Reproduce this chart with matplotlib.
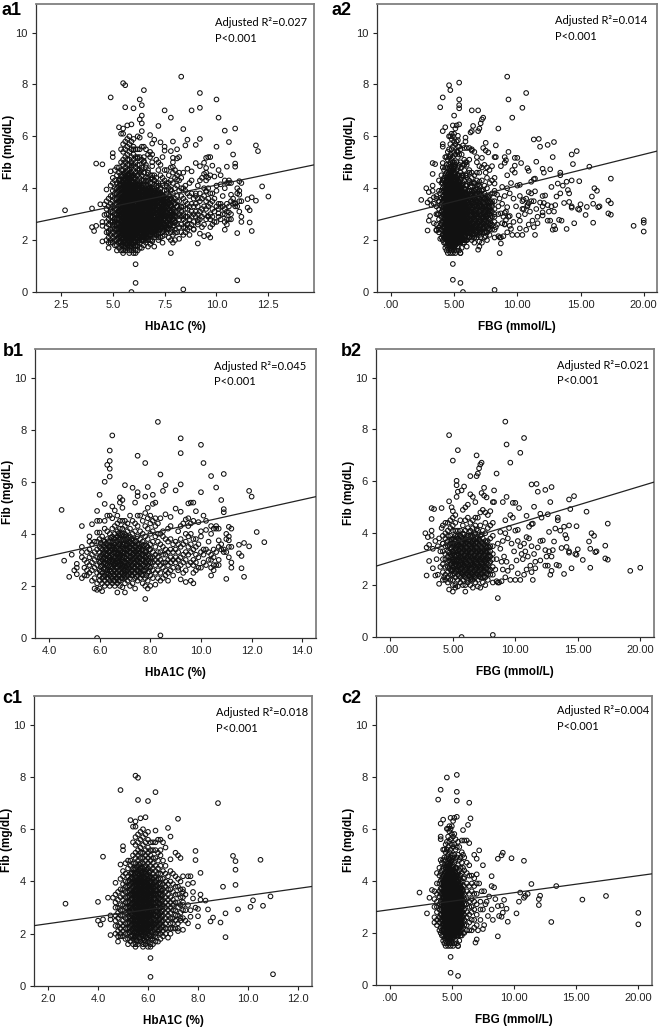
import numpy as np
import matplotlib
matplotlib.use('Agg')
import matplotlib.pyplot as plt

W, H = 659, 1030
plt.rcParams['font.family'] = ['Liberation Sans Narrow', 'Liberation Sans', 'DejaVu Sans']

# ---- b1: HbA1C, diabetic group ----
b1_sparse = [(4.5,4.92),(4.6,2.97),(4.8,2.35),(4.9,3.2),(5.0,2.6),(5.1,2.45),(5.1,2.7),(5.1,2.85),(5.3,4.3),(5.3,3.5),
 (5.3,3.3),(5.3,3.1),(5.3,2.3),(5.6,3.9),(5.7,4.37),(8.3,8.3),(6.5,7.78),(9.2,7.67),(10.0,7.42),(6.4,7.2),(9.2,7.1),
 (7.5,7.0),(7.8,6.72),(10.1,6.72),(6.4,6.8),(6.3,6.65),(6.4,6.5),(6.4,6.2),(6.2,6.0),(8.4,6.28),(10.4,6.22),(10.9,6.3),
 (7.0,5.87),(7.3,5.77),(7.9,5.8),(8.6,5.87),(8.5,5.65),(9.0,5.67),(9.2,5.9),(10.6,5.78),(10.0,5.6),(7.5,5.6),(7.5,5.45),
 (7.8,5.43),(8.1,5.5),(6.0,5.5),(6.2,5.15),(6.8,5.4),(6.9,5.3),(10.8,5.3),(11.9,5.65),(12.0,5.43),(9.5,5.17),(9.6,5.2),
 (9.7,5.2),(10.9,4.95),(10.9,4.83),(12.2,4.07),(12.5,3.68),(11.5,3.58),(11.7,3.65),(11.9,3.52),(11.5,3.25),(11.6,3.15),
 (11.6,2.68),(11.7,2.35),(11.0,2.27),(10.4,2.4),(7.8,1.5),(8.4,0.1),(5.9,0.0),(9.7,2.1),(9.4,2.15),(9.6,2.2),(9.2,2.25),(9.1,2.6)]
b1_levels = [5.4,5.5,5.6,5.7,5.8,5.9,6.0,6.1,6.2,6.3,6.4,6.5,6.6,6.7,6.8,6.9,7.0,7.1,7.2,7.3,7.4,7.5,7.6,7.7,7.8,7.9,8.0,8.1,8.2,8.3,8.4,8.5,8.6,8.7,8.8,8.9,9.0,9.1,9.2,9.3,9.4,9.5,9.6,9.7,9.8,9.9,10.0,10.1,10.2,10.3,10.4,10.5,10.6,10.7,10.8,10.9,11.0,11.1,11.2]
b1_rows = [
 [2.4,2.7,3.0],[2.4,2.6,2.9,3.3],[2.5,2.8,3.1,3.4,3.7],[2.2,2.6,2.9,3.2,3.6],[1.9,2.3,2.7,3.0,3.3,3.7],
 [1.85,2.1,2.5,2.8,3.1,3.4,3.7,4.05,4.5,4.88],[1.9,2.2,2.4,2.6,2.9,3.1,3.3,3.5,3.8,4.05,4.5],[1.8,2.1,2.3,2.5,2.8,3.0,3.2,3.4,3.6,3.9],
 [2.0,2.2,2.4,2.7,2.9,3.1,3.3,3.5,3.7,4.2,4.5],[2.1,2.3,2.5,2.6,2.8,3.0,3.2,3.4,3.6,3.8,4.1,4.7],[2.0,2.2,2.4,2.6,2.8,3.0,3.1,3.3,3.5,3.7,4.0,4.7],
 [2.1,2.3,2.5,2.7,2.9,3.0,3.2,3.4,3.5,3.7,3.9,4.2,4.6,5.05],[2.0,2.2,2.4,2.6,2.8,2.9,3.1,3.3,3.4,3.6,3.8,4.0,4.3,4.9],
 [1.75,2.1,2.3,2.5,2.7,2.9,3.0,3.2,3.3,3.5,3.7,3.9,4.1,4.4,4.7],[2.0,2.2,2.4,2.6,2.8,2.9,3.1,3.2,3.4,3.6,3.8,4.0,4.2,4.5,5.2],
 [1.95,2.3,2.5,2.7,2.8,3.0,3.1,3.3,3.5,3.6,3.8,4.0,4.2,4.5,5.0],[1.75,2.1,2.3,2.5,2.6,2.8,2.9,3.1,3.3,3.4,3.6,3.8,4.0,4.3,4.5],
 [2.2,2.4,2.6,2.8,3.0,3.2,3.4,3.6,3.8,4.1,4.4],[2.0,2.3,2.5,2.7,2.9,3.1,3.3,3.5,3.7,3.9,4.2,4.7],[2.1,2.4,2.6,2.8,3.0,3.2,3.4,3.6,3.8,4.0,4.5],
 [1.9,2.3,2.5,2.7,2.9,3.1,3.3,3.5,3.7,4.1,4.4,5.2],[2.2,2.4,2.6,2.8,3.0,3.2,3.4,3.6,3.9,4.3,4.7],[2.3,2.5,2.7,2.9,3.1,3.3,3.5,3.8,4.1,4.7],
 [2.1,2.4,2.6,2.8,3.0,3.2,3.4,3.7,4.0,4.5],[2.0,2.3,2.6,2.9,3.1,3.3,3.6,3.9,4.3,4.8],[1.9,2.2,2.5,2.8,3.0,3.2,3.5,3.8,4.2,4.6,5.0],
 [2.0,2.4,2.7,2.9,3.1,3.4,3.6,4.0,4.4,4.7],[2.3,2.6,2.9,3.1,3.3,3.7,4.1,4.5,5.15],[2.05,2.5,2.8,3.0,3.2,3.5,3.9,4.3,4.6,5.2],
 [2.3,2.6,2.9,3.1,3.3,3.7,4.0,4.4],[2.2,2.5,2.8,3.0,3.3,3.6,4.0,4.6],[2.3,2.7,2.9,3.2,3.5,3.9,4.1],
 [2.4,2.6,2.9,3.2,3.4,3.8,4.75],[2.2,2.5,2.8,3.0,3.3,3.7,4.2],[2.6,2.9,3.1,3.4,3.8,4.3,4.65],[2.4,2.7,3.0,3.3,3.6],
 [2.9,3.1,3.4,3.7,4.97],[2.7,3.0,3.3,3.6,4.1],[2.8,3.1,3.5,3.8,4.3,4.85],[2.5,2.9,3.2,3.6,4.4],
 [2.6,3.0,3.3,3.7,4.0,4.55],[2.8,3.2,3.5,3.9,4.3,4.6],[2.9,3.3,3.6,4.0,4.4],[2.5,2.8,3.0,3.4,3.8,4.5],
 [2.6,2.9,3.2,3.5,3.8,4.87],[2.7,3.1,3.6,4.45],[2.7,3.3,3.9,4.1],[2.9,3.2,3.4,4.7],[2.8,3.4,4.15,4.5],
 [3.0,3.3,3.7],[2.7,3.0,3.2,4.3,4.0],[2.6,2.8,3.1,3.4,4.2],[2.8,3.3,4.3,4.2],[2.8,3.0,3.75,3.5,4.2],
 [3.4,3.6],[3.3,3.4],[3.3,3.8,4.0],[3.1,3.5,3.75,3.9,4.27],[2.7,2.9,3.5,4.2]]
# the packed middle of the b1 cloud
b1_core_levels = [6.05,6.15,6.25,6.35,6.45,6.55,6.65,6.75,6.85,6.95,7.05,7.15,7.25,7.35,7.45,7.55,7.65,7.75,7.85,7.95]
b1_core_rows = [
 [2.55,2.75,2.95,3.15,3.45,3.65],[2.35,2.65,2.85,3.05,3.25,3.55,3.75],[2.45,2.65,2.85,3.02,3.22,3.42,3.62],
 [2.27,2.47,2.72,2.92,3.12,3.32,3.52,3.72],[2.35,2.55,2.75,2.95,3.15,3.35,3.55,3.85],[2.2,2.42,2.62,2.82,2.98,3.12,3.28,3.48,3.62,3.82],
 [2.3,2.5,2.7,2.85,3.05,3.25,3.45,3.65,3.85],[2.2,2.4,2.6,2.8,2.96,3.1,3.26,3.42,3.6,3.8,4.02],[2.3,2.5,2.68,2.85,3.02,3.18,3.35,3.52,3.72,3.95],
 [2.4,2.6,2.75,2.92,3.08,3.25,3.42,3.58,3.75,3.92],[2.35,2.55,2.72,2.88,3.05,3.22,3.38,3.55,3.72,3.9],[2.45,2.65,2.82,2.98,3.15,3.32,3.48,3.65,3.85],
 [2.4,2.6,2.78,2.95,3.12,3.28,3.45,3.62,3.8],[2.5,2.7,2.88,3.05,3.22,3.38,3.55,3.75],[2.35,2.6,2.8,2.98,3.15,3.32,3.5,3.7],
 [2.55,2.75,2.92,3.08,3.25,3.42,3.62],[2.45,2.68,2.85,3.02,3.2,3.38,3.6],[2.6,2.8,2.98,3.15,3.35,3.55],
 [2.4,2.7,2.92,3.12,3.32,3.55],[2.55,2.75,2.95,3.15,3.4]]

# ---- c1: HbA1C, non-diabetic group ----
c1_sparse = [(2.7,3.15),(4.0,3.22),(4.0,2.5),(4.1,2.35),(4.2,2.55),(4.2,4.95),(4.4,3.38),(4.6,3.38),(4.5,2.55),(4.5,2.7),
 (4.5,1.95),(4.7,3.95),(4.8,1.7),(4.9,4.65),(4.9,7.5),(5.0,5.35),(5.0,5.2),(5.5,8.05),(5.6,7.97),(5.6,7.12),(6.0,7.08),
 (6.3,7.42),(5.3,6.35),(5.5,6.3),(5.7,6.42),(5.9,6.46),(6.3,5.95),(6.8,6.05),(6.9,5.72),(7.2,6.4),(8.8,7.0),(7.9,5.17),
 (7.9,4.82),(8.1,4.33),(9.4,4.98),(9.5,4.78),(9.5,4.45),(9.5,3.87),(9.0,3.8),(10.5,4.83),(10.9,3.43),(10.2,3.28),(10.6,3.07),
 (10.1,3.03),(9.6,2.93),(9.1,2.78),(8.9,2.43),(8.6,2.62),(8.5,2.47),(9.1,1.87),(11.0,0.45),(6.1,1.07),(6.1,0.35),(8.4,2.93),
 (8.3,3.27),(8.1,3.5),(8.1,3.3),(8.0,2.95),(8.0,2.67),(8.0,2.28),(7.7,2.65),(7.6,2.4),(7.4,2.15),(7.2,2.1),(7.8,3.6),(7.6,3.9),
 (7.7,4.2),(7.6,4.2),(7.8,3.95),(7.2,5.0),(7.3,4.9),(7.1,5.1),(7.5,3.5),(7.6,3.1),(7.7,2.9),(7.8,3.35),(7.9,3.0),(7.4,3.7),(7.5,2.9),(7.4,3.2),(7.3,2.6),(7.5,2.5)]
c1_levels = [4.7,4.8,4.9,5.0,5.1,5.2,5.3,5.4,5.5,5.6,5.7,5.8,5.9,6.0,6.1,6.2,6.3,6.4,6.5,6.6,6.7,6.8,6.9,7.0,7.1,7.2,7.3,7.4]
c1_rows = [
 [2.0,2.3,2.5,2.7,3.0,3.2,3.5],[1.9,2.1,2.3,2.6,2.8,3.0,3.3,3.6],[1.9,2.0,2.2,2.4,2.7,2.9,3.1,3.4,3.7,4.1],
 [1.9,2.1,2.3,2.5,2.7,2.9,3.1,3.3,3.5,3.7,3.9,4.2,4.4],[1.8,2.0,2.2,2.4,2.6,2.8,3.0,3.2,3.4,3.6,3.8,4.0,4.3,4.7],
 [1.6,1.8,2.0,2.2,2.4,2.6,2.8,3.0,3.2,3.4,3.6,3.8,4.0,4.2,4.5,4.8],[1.7,1.9,2.1,2.3,2.5,2.6,2.8,3.0,3.1,3.3,3.5,3.7,3.9,4.1,4.3,4.6,4.8],
 [1.6,1.8,1.9,2.1,2.2,2.4,2.5,2.7,2.9,3.0,3.2,3.3,3.5,3.6,3.8,4.0,4.1,4.3,4.5,4.7,5.0,5.5,6.1],
 [1.5,1.6,1.8,1.9,2.1,2.2,2.4,2.5,2.7,2.8,3.0,3.1,3.3,3.4,3.6,3.7,3.9,4.0,4.2,4.3,4.5,4.7,4.9,5.1,5.4,5.7,6.1],
 [1.6,1.7,1.9,2.0,2.2,2.3,2.5,2.6,2.8,2.9,3.1,3.2,3.4,3.5,3.7,3.8,4.0,4.1,4.3,4.4,4.6,4.8,5.0,5.2,5.5,5.8],
 [1.7,1.8,2.0,2.1,2.3,2.4,2.6,2.7,2.9,3.0,3.2,3.3,3.5,3.6,3.8,3.9,4.1,4.2,4.4,4.5,4.7,4.9,5.1,5.3,5.6,5.9],
 [1.5,1.6,1.8,1.9,2.1,2.2,2.4,2.5,2.7,2.8,3.0,3.1,3.3,3.4,3.6,3.7,3.9,4.0,4.2,4.3,4.5,4.7,4.9,5.1,5.4,5.7,6.0],
 [1.6,1.7,1.9,2.0,2.2,2.3,2.5,2.6,2.8,2.9,3.1,3.2,3.4,3.5,3.7,3.8,4.0,4.1,4.3,4.4,4.6,4.8,5.0,5.2,5.5,5.8],
 [1.5,1.7,1.8,2.0,2.1,2.3,2.4,2.6,2.7,2.9,3.0,3.2,3.3,3.5,3.6,3.8,3.9,4.1,4.2,4.4,4.5,4.7,4.9,5.1,5.3,5.6,5.9],
 [1.5,1.6,1.8,1.9,2.1,2.2,2.4,2.5,2.7,2.8,3.0,3.1,3.3,3.4,3.6,3.7,3.9,4.0,4.2,4.4,4.6,4.8,5.0,5.2,5.5],
 [1.6,1.8,1.9,2.1,2.3,2.4,2.6,2.7,2.9,3.0,3.2,3.3,3.5,3.6,3.8,3.9,4.1,4.3,4.5,4.7,4.9,5.2,5.5],
 [1.7,1.9,2.0,2.2,2.4,2.5,2.7,2.9,3.0,3.2,3.3,3.5,3.7,3.8,4.0,4.2,4.4,4.6,4.9,5.2,5.5],
 [1.7,2.0,2.1,2.3,2.5,2.7,2.8,3.0,3.2,3.4,3.5,3.7,3.9,4.1,4.3,4.5,4.8,5.1,5.6],
 [1.8,2.0,2.2,2.4,2.6,2.8,3.0,3.1,3.3,3.5,3.7,3.9,4.1,4.3,4.6,5.0,5.2,5.6],
 [1.9,2.1,2.3,2.5,2.7,2.9,3.1,3.3,3.5,3.7,3.9,4.1,4.4,4.8,5.5],
 [2.0,2.2,2.4,2.6,2.8,3.0,3.2,3.4,3.6,3.8,4.0,4.3,4.6,5.3],[1.85,2.2,2.5,2.7,2.9,3.1,3.3,3.5,3.7,3.9,4.2],
 [2.0,2.2,2.4,2.6,2.8,3.0,3.2,3.4,3.7,4.0,4.4,4.85],[2.2,2.4,2.6,2.9,3.1,3.3,3.6,3.9,4.3],[2.2,2.5,2.7,2.9,3.2,3.5,3.8,4.2],
 [2.2,2.4,2.7,3.0,3.2,3.5,3.8,4.1],[2.5,2.8,3.1,3.4,3.7,4.0],[2.6,2.9,3.1,3.4,3.6,4.2]]
# the black middle of the c1 cloud
c1_core_levels = [5.25,5.35,5.45,5.55,5.65,5.75,5.85,5.95,6.05,6.15,6.25,6.35,6.45,6.55]
c1_core_rows = [
 [2.05,2.25,2.45,2.65,2.85,3.05,3.25,3.45,3.65,3.85,4.05],
 [1.95,2.15,2.35,2.55,2.75,2.95,3.15,3.35,3.55,3.75,3.95,4.15,4.35],
 [1.85,2.05,2.25,2.35,2.45,2.65,2.75,2.85,3.05,3.15,3.25,3.45,3.55,3.65,3.85,3.95,4.05,4.25,4.45],
 [1.75,1.95,2.05,2.15,2.25,2.35,2.45,2.55,2.65,2.75,2.85,2.95,3.05,3.15,3.25,3.35,3.45,3.55,3.65,3.75,3.85,3.95,4.05,4.15,4.35,4.55],
 [1.85,2.05,2.15,2.25,2.35,2.45,2.55,2.65,2.75,2.85,2.95,3.05,3.15,3.25,3.35,3.45,3.55,3.65,3.75,3.85,3.95,4.05,4.15,4.25,4.45,4.65],
 [1.95,2.05,2.15,2.25,2.35,2.45,2.55,2.65,2.75,2.85,2.95,3.05,3.15,3.25,3.35,3.45,3.55,3.65,3.75,3.85,3.95,4.05,4.15,4.25,4.35,4.55],
 [1.75,1.95,2.05,2.15,2.25,2.35,2.45,2.55,2.65,2.75,2.85,2.95,3.05,3.15,3.25,3.35,3.45,3.55,3.65,3.75,3.85,3.95,4.05,4.15,4.35,4.55],
 [1.85,2.05,2.15,2.25,2.35,2.45,2.55,2.65,2.75,2.85,2.95,3.05,3.15,3.25,3.35,3.45,3.55,3.65,3.75,3.85,3.95,4.05,4.25,4.45],
 [1.95,2.15,2.25,2.35,2.45,2.55,2.65,2.75,2.85,2.95,3.05,3.15,3.25,3.35,3.45,3.55,3.65,3.75,3.85,3.95,4.15,4.35],
 [2.05,2.25,2.35,2.45,2.65,2.75,2.85,3.05,3.15,3.25,3.45,3.55,3.65,3.85,3.95,4.15],
 [2.15,2.35,2.55,2.75,2.95,3.15,3.35,3.55,3.75,3.95,4.15],
 [2.25,2.45,2.65,2.85,3.05,3.25,3.45,3.65,3.85,4.05],
 [2.15,2.35,2.55,2.75,2.95,3.15,3.35,3.55,3.75,3.95],
 [2.25,2.45,2.65,2.85,3.05,3.25,3.45,3.65]]

# ---- b2: FBG, diabetic group ----
b2_sparse = [(9.2,8.3),(4.7,7.78),(10.7,7.67),(9.3,7.42),(5.4,7.2),(10.4,7.1),(6.9,7.0),(5.0,6.8),(9.6,6.72),(7.3,6.72),(7.2,6.65),
 (7.1,6.5),(8.5,6.3),(7.0,6.3),(6.9,6.2),(6.4,6.2),(5.3,6.02),(5.3,5.85),(5.9,5.8),(5.7,5.65),(5.4,5.6),(5.3,5.4),(11.3,5.88),
 (11.7,5.9),(11.8,5.6),(12.9,5.78),(12.4,5.67),(14.7,5.43),(14.3,5.3),(14.4,4.93),(15.7,4.83),(17.4,4.37),(14.9,4.27),(16.1,4.0),
 (16.3,3.9),(15.9,3.68),(17.2,3.52),(16.0,3.4),(16.4,3.27),(16.5,3.3),(15.0,3.38),(15.4,2.97),(17.2,3.03),(17.4,2.98),(16.0,2.67),
 (14.5,2.65),(13.9,2.43),(13.5,2.75),(13.3,2.78),(19.2,2.55),(20.0,2.67),(14.1,3.47),(14.3,3.25),(14.3,3.3),(14.8,3.2),(14.9,3.17),
 (13.7,3.43),(13.1,3.68),(12.7,4.05),(13.2,4.18),(13.6,4.1),(13.9,4.25),(14.3,4.3),(14.0,3.93),(14.1,3.8),(13.4,4.6),(13.4,4.5),
 (8.6,1.5),(8.2,0.08),(5.7,0.0),(3.3,4.97),(3.5,4.93),(3.3,4.55),(4.1,4.97),(2.8,4.0),(3.0,3.85),(3.3,3.9),(3.3,4.1),(3.1,3.55),
 (2.9,3.45),(3.4,3.4),(3.1,2.93),(2.9,2.37),(3.4,2.65),(3.6,2.37),(3.8,2.4),(3.9,2.05),(4.7,1.83),(5.0,1.75),(5.2,1.9),(6.0,1.75),
 (4.7,5.23),(5.0,4.85),(4.9,5.0),(3.6,3.7),(3.7,3.0),(3.8,3.5),(3.9,3.8),(4.0,3.3),(4.0,2.7),(4.1,4.2),(4.2,3.6),(4.3,2.3),
 (8.3,5.65),(8.3,5.2),(7.5,5.75),(7.5,5.45),(7.7,5.38),(7.3,5.55),(9.0,5.2),(9.3,5.4),(9.6,4.7),(9.8,5.17),(10.0,5.17),(10.3,4.97),
 (10.9,4.67),(11.5,5.02),(12.0,4.75),(12.1,4.6),(12.6,4.73),(12.8,5.2),(11.4,4.37),(11.3,4.35),(11.1,4.25),(10.2,4.13),(10.0,4.1),
 (9.2,4.5),(9.5,4.2),(9.8,4.6),(9.4,3.8),(9.7,3.6),(9.9,3.3),(10.2,3.7),(10.4,3.5),(10.5,3.2),(10.6,3.0),(10.7,3.6),(10.9,3.85),
 (11.1,3.8),(11.3,3.5),(11.5,3.2),(11.6,2.9),(11.8,3.45),(12.0,3.7),(12.2,3.72),(12.4,3.35),(12.5,3.1),(12.7,3.3),(12.9,3.1),
 (13.0,3.35),(12.4,2.75),(12.6,2.75),(12.8,2.4),(12.9,2.55),(12.0,2.95),(11.6,2.65),(11.4,2.2),(11.3,2.5),(11.2,2.75),(10.9,2.6),
 (10.7,2.4),(10.4,2.2),(10.2,2.45),(10.0,2.2),(10.1,2.95),(9.7,2.7),(9.6,2.2),(9.4,2.55),(9.2,2.3),(9.0,2.6),(8.9,2.15),(8.7,2.1),
 (8.5,2.15),(8.6,2.1),(8.9,2.9),(9.1,3.1),(9.3,2.9),(8.8,3.4),(9.0,3.7),(9.2,4.0),(8.8,4.05),(8.6,3.6),(8.5,3.0),(8.4,2.6),(10.8,3.3),(11.0,3.1)]
b2_levels = [4.2,4.4,4.6,4.8,5.0,5.2,5.4,5.6,5.8,6.0,6.2,6.4,6.6,6.8,7.0,7.2,7.4,7.6,7.8,8.0,8.2]
b2_rows = [
 [2.2,2.5,2.8,3.0,3.3,3.6,3.9,4.3],[2.2,2.4,2.7,3.0,3.2,3.5,3.8,4.0,4.4],[2.1,2.3,2.5,2.7,2.9,3.1,3.3,3.5,3.7,3.9,4.1,4.4],
 [2.2,2.4,2.6,2.8,2.9,3.1,3.2,3.4,3.6,3.7,3.9,4.2,4.5],[2.0,2.2,2.4,2.6,2.7,2.9,3.0,3.2,3.3,3.5,3.6,3.8,4.1,4.3,4.6],
 [2.0,2.3,2.5,2.7,2.8,3.0,3.1,3.3,3.4,3.6,3.7,3.9,4.1,4.4,4.7],[1.95,2.2,2.4,2.6,2.7,2.9,3.0,3.2,3.3,3.5,3.6,3.8,3.9,4.1],
 [2.1,2.3,2.5,2.6,2.8,2.9,3.1,3.2,3.4,3.5,3.7,3.9,4.1,4.5],[2.0,2.2,2.4,2.5,2.7,2.8,3.0,3.1,3.3,3.4,3.6,3.8,4.0,4.3,4.9],
 [2.0,2.3,2.4,2.6,2.7,2.9,3.0,3.2,3.3,3.5,3.6,3.8,4.1,4.5,5.0],[2.1,2.2,2.4,2.5,2.7,2.8,3.0,3.1,3.3,3.4,3.6,3.7,3.9,4.2,4.6,5.1],
 [2.0,2.2,2.3,2.5,2.6,2.8,2.9,3.1,3.2,3.4,3.5,3.7,3.9,4.1,4.4,5.5],[1.9,2.2,2.4,2.5,2.7,2.8,3.0,3.1,3.3,3.4,3.6,3.7,3.9,4.2,4.5,5.4],
 [2.1,2.3,2.4,2.6,2.7,2.9,3.0,3.2,3.3,3.5,3.6,3.8,4.0,4.3,4.6,5.2],[1.95,2.2,2.4,2.5,2.7,2.8,3.0,3.1,3.3,3.4,3.6,3.8,4.1,4.6],
 [1.9,2.3,2.4,2.6,2.7,2.9,3.0,3.2,3.3,3.5,3.7,3.9,4.3,4.8],[2.1,2.3,2.5,2.7,2.8,3.0,3.1,3.3,3.4,3.6,3.8,4.1,4.9],
 [2.0,2.3,2.5,2.7,2.9,3.0,3.2,3.3,3.5,3.7,4.0,4.4,4.8],[2.2,2.4,2.6,2.8,3.0,3.1,3.3,3.5,3.7,4.2,4.7],[2.4,2.6,2.9,3.1,3.3,3.5,3.8,4.3,4.85],
 [2.1,2.4,2.7,3.0,3.2,3.5,3.9,4.4,5.2]]
# the packed middle of the b2 cloud
b2_core_levels = [4.7,4.9,5.1,5.3,5.5,5.7,5.9,6.1,6.3,6.5,6.7,6.9,7.1,7.3,7.5,7.7,7.9]
b2_core_rows = [
 [2.65,2.95,3.25,3.55],[2.55,2.85,3.15,3.45,3.75],[2.45,2.75,2.95,3.15,3.35,3.55,3.75],[2.55,2.75,2.95,3.15,3.35,3.55,3.85],
 [2.35,2.55,2.75,2.95,3.15,3.35,3.55,3.75],[2.45,2.65,2.85,3.05,3.25,3.45,3.65,3.85],[2.35,2.55,2.75,2.95,3.15,3.35,3.55,3.75,3.95],
 [2.45,2.65,2.85,3.05,3.25,3.45,3.65,3.85],[2.35,2.55,2.75,2.95,3.15,3.35,3.55,3.75,4.05],[2.25,2.45,2.65,2.85,3.05,3.25,3.45,3.65,3.85],
 [2.35,2.55,2.75,2.95,3.15,3.35,3.55,3.75,3.95],[2.45,2.65,2.85,3.05,3.25,3.45,3.65,3.85,4.15],[2.35,2.55,2.75,2.95,3.15,3.35,3.55,3.75],
 [2.45,2.65,2.85,3.05,3.25,3.45,3.65,3.95],[2.35,2.55,2.75,2.95,3.15,3.35,3.55],[2.45,2.65,2.85,3.05,3.25,3.45,3.65],[2.55,2.85,3.15,3.45]]

# ---- c2: FBG, non-diabetic group ----
c2_sparse = [(2.4,3.55),(3.0,2.75),(3.2,3.35),(3.4,3.65),(3.6,2.4),(3.9,7.12),(4.1,7.5),(4.6,7.97),(5.4,8.07),(5.4,7.42),(5.4,7.08),
 (6.4,7.0),(4.3,6.35),(4.1,6.2),(4.1,5.7),(4.1,5.6),(4.9,6.42),(5.2,6.42),(5.4,6.46),(6.5,6.4),(6.3,6.15),(5.9,5.95),(6.0,5.55),
 (6.2,5.55),(6.4,5.45),(7.2,5.17),(6.8,5.0),(7.0,4.85),(7.5,4.6),(7.0,4.25),(8.2,4.18),(8.2,3.8),(8.4,3.75),(8.7,4.85),(9.0,4.98),
 (9.1,5.08),(9.8,4.87),(10.8,4.77),(11.4,3.88),(13.4,3.8),(10.5,3.55),(10.9,3.42),(10.8,3.35),(11.1,3.5),(10.4,3.2),(12.0,3.3),
 (12.1,3.43),(12.0,3.07),(13.0,2.42),(15.5,3.28),(17.4,3.42),(20.0,2.77),(20.0,2.33),(10.2,2.75),(9.5,2.43),(9.4,2.93),(9.2,3.27),
 (9.0,3.05),(8.7,3.03),(9.1,2.78),(8.8,2.65),(9.0,2.62),(8.7,1.87),(8.3,2.5),(7.0,1.75),(6.9,1.63),(5.5,1.5),(4.9,1.08),(4.9,0.47),
 (5.5,0.35),(8.2,2.9),(8.5,3.3),(8.0,3.4),(7.7,3.1),(7.9,2.65),(7.2,3.9),(7.4,3.6),(7.6,3.6),(7.3,3.2),(7.5,2.9),(7.3,2.5),(7.6,2.3),(7.5,2.15),(7.8,3.2),(7.1,2.1),(7.3,2.9)]
c2_levels = [3.6,3.8,4.0,4.1,4.2,4.3,4.4,4.5,4.6,4.7,4.8,4.9,5.0,5.1,5.2,5.3,5.4,5.5,5.6,5.7,5.8,5.9,6.0,6.2,6.4,6.6,6.8,7.0]
c2_rows = [
 [2.6,3.0,3.3,3.6],[2.3,2.5,2.8,3.0,3.2,3.5,3.9,4.3],[2.1,2.4,2.6,2.9,3.1,3.4,3.6,3.9,4.2,4.5],[2.0,2.2,2.5,2.7,3.0,3.2,3.5,3.7,4.0,4.3,4.8],
 [1.9,2.1,2.3,2.5,2.7,2.9,3.1,3.3,3.5,3.7,3.9,4.1,4.4,4.7],[1.7,1.9,2.1,2.3,2.5,2.6,2.8,3.0,3.2,3.4,3.6,3.8,4.0,4.2,4.5,4.8,5.2],
 [1.6,1.8,2.0,2.1,2.3,2.4,2.6,2.7,2.9,3.0,3.2,3.3,3.5,3.6,3.8,3.9,4.1,4.3,4.6,4.9,5.2],
 [1.5,1.7,1.9,2.0,2.2,2.3,2.5,2.6,2.8,2.9,3.1,3.2,3.4,3.5,3.7,3.8,4.0,4.1,4.3,4.5,4.8,5.1,5.4],
 [1.6,1.8,1.9,2.1,2.2,2.4,2.5,2.7,2.8,3.0,3.1,3.3,3.4,3.6,3.7,3.9,4.0,4.2,4.4,4.6,4.9,5.2,5.5,6.0],
 [1.5,1.7,1.8,2.0,2.1,2.3,2.4,2.6,2.7,2.9,3.0,3.2,3.3,3.5,3.6,3.8,3.9,4.1,4.3,4.5,4.7,5.0,5.3,5.7,6.0],
 [1.6,1.7,1.9,2.0,2.2,2.3,2.5,2.6,2.8,2.9,3.1,3.2,3.4,3.5,3.7,3.8,4.0,4.2,4.4,4.6,4.8,5.1,5.5,5.9,6.1],
 [1.5,1.8,1.9,2.1,2.2,2.4,2.5,2.7,2.8,3.0,3.1,3.3,3.4,3.6,3.7,3.9,4.0,4.2,4.4,4.7,4.9,5.2,5.6,6.0],
 [1.6,1.7,1.9,2.0,2.2,2.3,2.5,2.6,2.8,2.9,3.1,3.2,3.4,3.5,3.7,3.8,4.0,4.1,4.3,4.5,4.8,5.0,5.4,5.8,6.1],
 [1.5,1.8,2.0,2.1,2.3,2.4,2.6,2.7,2.9,3.0,3.2,3.3,3.5,3.6,3.8,3.9,4.1,4.3,4.6,4.9,5.3,5.7,6.3],
 [1.6,1.9,2.0,2.2,2.3,2.5,2.6,2.8,2.9,3.1,3.2,3.4,3.5,3.7,3.8,4.0,4.2,4.4,4.7,5.0,5.4,5.8],
 [1.7,1.9,2.1,2.2,2.4,2.5,2.7,2.8,3.0,3.1,3.3,3.4,3.6,3.7,3.9,4.1,4.3,4.5,4.8,5.2,5.6],
 [1.6,1.9,2.0,2.2,2.3,2.5,2.6,2.8,2.9,3.1,3.2,3.4,3.5,3.7,3.9,4.0,4.2,4.5,4.9,5.3],
 [1.5,1.9,2.1,2.2,2.4,2.5,2.7,2.8,3.0,3.1,3.3,3.4,3.6,3.8,4.0,4.3,4.6,5.0,5.5],
 [1.7,2.0,2.2,2.3,2.5,2.6,2.8,2.9,3.1,3.2,3.4,3.6,3.8,4.1,4.4,4.8,5.3],
 [1.9,2.0,2.2,2.4,2.5,2.7,2.8,3.0,3.2,3.3,3.5,3.7,3.9,4.2,4.5,4.9],
 [1.9,2.1,2.3,2.5,2.6,2.8,3.0,3.1,3.3,3.5,3.7,4.0,4.3,4.7,5.1,5.55],
 [2.0,2.2,2.4,2.6,2.8,3.0,3.2,3.4,3.6,3.8,4.1,4.5,5.0],[2.0,2.3,2.5,2.7,2.9,3.1,3.3,3.5,3.8,4.1,4.4,4.9],
 [2.1,2.3,2.6,2.8,3.1,3.3,3.6,3.9,4.3,4.7],[2.1,2.4,2.7,3.0,3.2,3.5,3.8,4.2,4.6],[2.1,2.5,2.8,3.0,3.3,3.6,3.9,4.2],
 [2.2,2.5,2.9,3.2,3.5,3.8,4.1],[2.3,2.7,3.1,3.5,3.9]]
# the black middle of the c2 cloud
c2_core_levels = [4.35,4.45,4.55,4.65,4.75,4.85,4.95,5.05,5.15,5.25,5.35,5.45,5.55,5.65,5.75]
c2_core_rows = [
 [2.15,2.35,2.55,2.75,2.95,3.15,3.35,3.55,3.75,3.95],
 [2.05,2.25,2.45,2.65,2.85,3.05,3.25,3.45,3.65,3.85,4.05,4.25],
 [1.95,2.15,2.35,2.45,2.65,2.75,2.95,3.05,3.25,3.35,3.55,3.65,3.85,3.95,4.15,4.35,4.55],
 [1.85,2.05,2.15,2.25,2.35,2.45,2.55,2.65,2.75,2.85,2.95,3.05,3.15,3.25,3.35,3.45,3.55,3.65,3.75,3.85,3.95,4.05,4.25,4.45,4.65],
 [1.95,2.05,2.15,2.25,2.35,2.45,2.55,2.65,2.75,2.85,2.95,3.05,3.15,3.25,3.35,3.45,3.55,3.65,3.75,3.85,3.95,4.05,4.15,4.35,4.55,4.85],
 [1.75,1.95,2.05,2.15,2.25,2.35,2.45,2.55,2.65,2.75,2.85,2.95,3.05,3.15,3.25,3.35,3.45,3.55,3.65,3.75,3.85,3.95,4.05,4.15,4.25,4.45,4.65],
 [1.85,2.05,2.15,2.25,2.35,2.45,2.55,2.65,2.75,2.85,2.95,3.05,3.15,3.25,3.35,3.45,3.55,3.65,3.75,3.85,3.95,4.05,4.15,4.25,4.45,4.75],
 [1.95,2.05,2.15,2.25,2.35,2.45,2.55,2.65,2.75,2.85,2.95,3.05,3.15,3.25,3.35,3.45,3.55,3.65,3.75,3.85,3.95,4.05,4.15,4.35,4.55],
 [1.85,2.05,2.15,2.25,2.35,2.45,2.55,2.65,2.75,2.85,2.95,3.05,3.15,3.25,3.35,3.45,3.55,3.65,3.75,3.85,3.95,4.05,4.25,4.45],
 [1.95,2.15,2.25,2.35,2.45,2.55,2.65,2.75,2.85,2.95,3.05,3.15,3.25,3.35,3.45,3.55,3.65,3.75,3.85,3.95,4.15,4.35],
 [2.05,2.15,2.35,2.45,2.55,2.65,2.75,2.85,2.95,3.05,3.15,3.25,3.35,3.45,3.55,3.65,3.75,3.85,4.05,4.25],
 [2.05,2.25,2.35,2.55,2.65,2.75,2.85,2.95,3.05,3.15,3.25,3.35,3.45,3.55,3.65,3.75,3.95,4.15],
 [2.15,2.35,2.45,2.65,2.75,2.95,3.05,3.25,3.35,3.55,3.65,3.85,4.05],
 [2.25,2.45,2.65,2.85,3.05,3.25,3.45,3.65,3.85],
 [2.35,2.55,2.75,2.95,3.15,3.35,3.55,3.75]]

# regression lines, value at the left and right edge of each panel
fits = {'a1': (2.68, 4.90), 'a2': (2.75, 5.43), 'b1': (3.03, 5.43),
        'b2': (2.73, 5.97), 'c1': (2.31, 3.81), 'c2': (2.82, 4.27)}
r2_text = {'a1': '0.027', 'a2': '0.014', 'b1': '0.045', 'b2': '0.021', 'c1': '0.018', 'c2': '0.004'}

hba_label = 'HbA1C (%)'
fbg_label = 'FBG (mmol/L)'
fbg_ticks = [0, 5, 10, 15, 20]
fbg_ticklabels = ['.00', '5.00', '10.00', '15.00', '20.00']


def points(sparse, levels, rows, core_levels=(), core_rows=()):
    xs = [p[0] for p in sparse]
    ys = [p[1] for p in sparse]
    for lev, row in zip(list(levels) + list(core_levels), list(rows) + list(core_rows)):
        xs += [lev] * len(row)
        ys += row
    return np.array(xs), np.array(ys)


b1_x, b1_y = points(b1_sparse, b1_levels, b1_rows, b1_core_levels, b1_core_rows)
c1_x, c1_y = points(c1_sparse, c1_levels, c1_rows, c1_core_levels, c1_core_rows)
b2_x, b2_y = points(b2_sparse, b2_levels, b2_rows, b2_core_levels, b2_core_rows)
c2_x, c2_y = points(c2_sparse, c2_levels, c2_rows, c2_core_levels, c2_core_rows)
# the whole cohort is the two groups together
a1_x, a1_y = np.r_[b1_x, c1_x], np.r_[b1_y, c1_y]
a2_x, a2_y = np.r_[b2_x, c2_x], np.r_[b2_y, c2_y]

panels = {
    # name: x, y, frame in px (l, t, r, b), xlim, xticks, labels, x title, tag pos, note pos, y title centre
    'a1': (a1_x, a1_y, (36, 4, 314, 292), (1.3, 14.7), [2.5, 5, 7.5, 10, 12.5], ['2.5', '5.0', '7.5', '10.0', '12.5'], hba_label, (1, 15), (215, 22), 147),
    'a2': (a2_x, a2_y, (377, 4, 657, 292), (-1.1, 21.05), fbg_ticks, fbg_ticklabels, fbg_label, (332, 15), (555, 21), 148),
    'b1': (b1_x, b1_y, (35, 349, 316, 638), (3.45, 14.54), [4, 6, 8, 10, 12, 14], ['4.0', '6.0', '8.0', '10.0', '12.0', '14.0'], hba_label, (3, 356), (214, 366), 492),
    'b2': (b2_x, b2_y, (376, 349, 654, 637), (-1.15, 21.1), fbg_ticks, fbg_ticklabels, fbg_label, (341, 356), (557, 365), 493),
    'c1': (c1_x, c1_y, (34, 696, 312, 986), (1.44, 12.56), [2, 4, 6, 8, 10, 12], ['2.0', '4.0', '6.0', '8.0', '10.0', '12.0'], hba_label, (2, 703), (216, 713), 840),
    'c2': (c2_x, c2_y, (376, 696, 652, 985), (-1.1, 21.1), fbg_ticks, fbg_ticklabels, fbg_label, (341, 703), (557, 711), 840),
}

fig = plt.figure(figsize=(W / 100, H / 100), dpi=100)

for name, (x, y, box, xlim, xt, xtl, xtitle, tag, note, yc) in panels.items():
    l, t, r, b = box
    ax = fig.add_axes([l / W, 1 - b / H, (r - l) / W, (b - t) / H])
    ax.scatter(x, y, s=11, facecolors='none', edgecolors='#111111', linewidths=0.75, clip_on=True, zorder=2)
    ax.plot(xlim, fits[name], color='#222222', lw=0.9, zorder=3)
    ax.set_xlim(xlim)
    ax.set_ylim(0, 11.1)
    ax.set_xticks(xt)
    ax.set_xticklabels(xtl)
    ax.set_yticks([0, 2, 4, 6, 8, 10])
    ax.tick_params(labelsize=8, length=3, width=0.8, pad=3, color='#222222', labelcolor='#222222')
    for side in ['top', 'right']:
        ax.spines[side].set_color('#808080')
        ax.spines[side].set_linewidth(1.3)
    for side in ['left', 'bottom']:
        ax.spines[side].set_color('#333333')
        ax.spines[side].set_linewidth(0.9)
    fig.text((l + r) / 2 / W, 1 - (b + 35) / H, xtitle, fontsize=8.5, fontweight='bold',
             ha='center', va='center', family=['Liberation Sans'])
    fig.text((l - 27) / W, 1 - yc / H, 'Fib (mg/dL)', fontsize=8.5, fontweight='bold', rotation=90,
             ha='center', va='center', family=['Liberation Sans'])
    fig.text(tag[0] / W, 1 - tag[1] / H, name, fontsize=13, fontweight='bold', ha='left', va='baseline',
             family=['Liberation Sans'])
    fig.text(note[0] / W, 1 - note[1] / H, 'Adjusted R\u00b2=' + r2_text[name], fontsize=8, ha='left', va='center',
             family=['Lato', 'DejaVu Sans'])
    fig.text(note[0] / W, 1 - (note[1] + 16) / H, 'P<0.001', fontsize=8, ha='left', va='center',
             family=['Lato', 'DejaVu Sans'])

plt.savefig('out.png', dpi=100)
